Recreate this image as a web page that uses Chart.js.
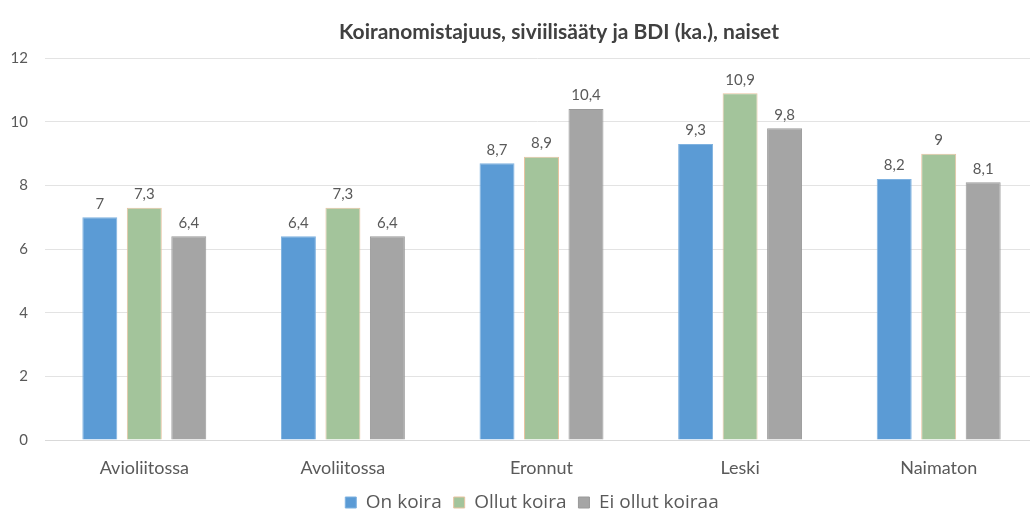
<!DOCTYPE html>
<html>
<head>
<meta charset="utf-8">
<script src="https://cdn.jsdelivr.net/npm/chart.js@4"></script>
<style>
  html, body { margin: 0; padding: 0; background: #fff; overflow: hidden; }
  #wrap { width: 1030px; height: 511px; }
</style>
</head>
<body>
<div id="wrap"><canvas id="chart"></canvas></div>
<script>
const categories = ['Avioliitossa', 'Avoliitossa', 'Eronnut', 'Leski', 'Naimaton'];
const onKoira = [7, 6.4, 8.7, 9.3, 8.2];
const ollutKoira = [7.3, 7.3, 8.9, 10.9, 9];
const eiOllutKoiraa = [6.4, 6.4, 10.4, 9.8, 8.1];
const yTicks = [0, 2, 4, 6, 8, 10, 12];

// draw the value above each bar, finnish decimal comma
const valueLabels = {
    id: 'valueLabels',
    afterDatasetsDraw(chart) {
        const ctx = chart.ctx;
        ctx.save();
        ctx.font = '15px Lato';
        ctx.fillStyle = '#595959';
        ctx.textAlign = 'center';
        ctx.textBaseline = 'bottom';
        chart.data.datasets.forEach((ds, i) => {
            chart.getDatasetMeta(i).data.forEach((bar, j) => {
                const txt = String(ds.data[j]).replace('.', ',');
                ctx.fillText(txt, bar.x, bar.y - 6);
            });
        });
        ctx.restore();
    }
};

// the original plot runs a bit past the right edge, and title/legend sit off-centre
const shiftLayout = {
    id: 'shiftLayout',
    afterLayout(chart) {
        const x = chart.scales.x;
        x.right = x.left + 993;
        x.width = x.right - x.left;
        x.configure();
        const move = (box, c) => {
            const d = c - (box.left + box.right) / 2;
            box.left += d;
            box.right += d;
        };
        move(chart.titleBlock, 559);
        move(chart.legend, 532);
    }
};

new Chart(document.getElementById('chart'), {
    type: 'bar',
    data: {
        labels: categories,
        datasets: [
            { label: 'On koira', data: onKoira, backgroundColor: '#5B9BD5', borderColor: '#7FB2E0', borderWidth: 1 },
            { label: 'Ollut koira', data: ollutKoira, backgroundColor: '#A3C49B', borderColor: '#E8C3A0', borderWidth: 1 },
            { label: 'Ei ollut koiraa', data: eiOllutKoiraa, backgroundColor: '#A5A5A5', borderColor: '#9A9A9A', borderWidth: 1 }
        ]
    },
    options: {
        responsive: true,
        maintainAspectRatio: false,
        animation: false,
        layout: { padding: { left: 0, right: -8, top: 0, bottom: -11 } },
        datasets: { bar: { categoryPercentage: 0.672, barPercentage: 0.786 } },
        plugins: {
            title: {
                display: true,
                text: 'Koiranomistajuus, siviilisääty ja BDI (ka.), naiset',
                color: '#404040',
                font: { family: 'Lato', size: 21, weight: 'bold' },
                padding: { top: 20, bottom: 13 }
            },
            legend: {
                position: 'bottom',
                labels: {
                    color: '#595959',
                    font: { family: 'Open Sans', size: 19 },
                    boxWidth: 11,
                    boxHeight: 11,
                    padding: 12
                }
            },
            tooltip: { enabled: false }
        },
        scales: {
            x: {
                grid: { display: false },
                border: { color: '#D9D9D9' },
                ticks: { color: '#595959', font: { family: 'Lato', size: 18 }, padding: 9 },
                afterFit: axis => { axis.height = 41; }
            },
            y: {
                min: 0,
                max: 12,
                afterBuildTicks: axis => { axis.ticks = yTicks.map(v => ({ value: v })); },
                grid: { color: '#E3E3E3', drawTicks: false },
                border: { display: false },
                ticks: { color: '#595959', font: { family: 'Lato', size: 15 }, padding: 17 },
                afterFit: axis => { axis.width = 45; }
            }
        }
    },
    plugins: [valueLabels, shiftLayout]
});
</script>
</body>
</html>
